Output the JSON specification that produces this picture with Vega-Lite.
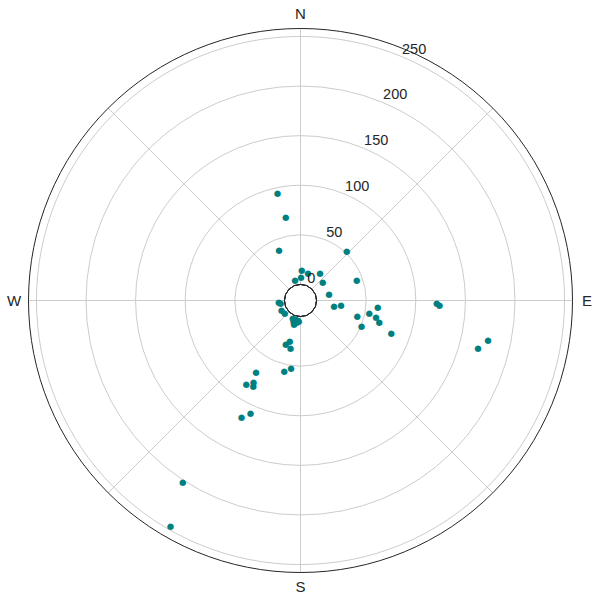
{
  "$schema": "https://vega.github.io/schema/vega-lite/v6.json",
  "width": 544,
  "height": 544,
  "autosize": {"type": "none"},
  "padding": {"left": 28.5, "top": 28.5, "right": 24, "bottom": 27},
  "background": "white",
  "view": {"stroke": null},
  "config": {"font": "Liberation Sans"},
  "datasets": {
    "points": [
      {"direction": 2, "speed": 15}, {"direction": 15, "speed": 13}, {"direction": 35, "speed": 18},
      {"direction": 345, "speed": 5}, {"direction": 1, "speed": 7}, {"direction": 50, "speed": 13},
      {"direction": 78, "speed": 13}, {"direction": 99, "speed": 18}, {"direction": 97, "speed": 25},
      {"direction": 43, "speed": 52}, {"direction": 70, "speed": 44}, {"direction": 105, "speed": 43},
      {"direction": 100, "speed": 54}, {"direction": 95, "speed": 62}, {"direction": 102, "speed": 61.5},
      {"direction": 105, "speed": 66}, {"direction": 113, "speed": 50.5}, {"direction": 110, "speed": 81},
      {"direction": 91, "speed": 121}, {"direction": 92, "speed": 124}, {"direction": 102, "speed": 177},
      {"direction": 105, "speed": 169}, {"direction": 348, "speed": 95}, {"direction": 350, "speed": 69.5},
      {"direction": 337, "speed": 39.5}, {"direction": 267, "speed": 5.7}, {"direction": 264, "speed": 4.1},
      {"direction": 244, "speed": 5.1}, {"direction": 232, "speed": 3.9}, {"direction": 204, "speed": 3.4},
      {"direction": 195, "speed": 3.0}, {"direction": 199, "speed": 5.9}, {"direction": 188, "speed": 4.1},
      {"direction": 196, "speed": 8.0}, {"direction": 190, "speed": 6.3}, {"direction": 185, "speed": 5.0},
      {"direction": 195, "speed": 25.7}, {"direction": 199, "speed": 29.9}, {"direction": 192, "speed": 32.5},
      {"direction": 188, "speed": 52.3}, {"direction": 193, "speed": 56.6}, {"direction": 212, "speed": 68.4},
      {"direction": 210, "speed": 78.5}, {"direction": 213, "speed": 84.3}, {"direction": 209, "speed": 82},
      {"direction": 204, "speed": 107.6}, {"direction": 207, "speed": 115.1}, {"direction": 213, "speed": 201.7},
      {"direction": 210, "speed": 245.9}
    ],
    "rings": [{"speed": 50}, {"speed": 100}, {"speed": 150}, {"speed": 200}, {"speed": 250}],
    "ticks": [
      {"speed": 0, "label": "0"}, {"speed": 50, "label": "50"}, {"speed": 100, "label": "100"},
      {"speed": 150, "label": "150"}, {"speed": 200, "label": "200"}, {"speed": 250, "label": "250"}
    ],
    "spokes": [
      {"direction": 0}, {"direction": 45}, {"direction": 90}, {"direction": 135},
      {"direction": 180}, {"direction": 225}, {"direction": 270}, {"direction": 315}
    ],
    "compass": [
      {"direction": 0, "label": "N"}, {"direction": 90, "label": "E"},
      {"direction": 180, "label": "S"}, {"direction": 270, "label": "W"}
    ]
  },
  "layer": [
    {
      "data": {"name": "rings"},
      "mark": {"type": "arc", "filled": false, "stroke": "#cccccc", "strokeWidth": 1, "theta": 0, "theta2": 6.283185307179586},
      "encoding": {
        "radius": {"field": "speed", "type": "quantitative", "stack": null, "scale": {"type": "linear", "domain": [-16.2, 258], "range": [0, 272], "zero": false}}
      }
    },
    {
      "data": {"name": "spokes"},
      "mark": {"type": "arc", "filled": false, "stroke": "#cccccc", "strokeWidth": 1},
      "encoding": {
        "theta": {"field": "direction", "type": "quantitative", "stack": null, "scale": {"domain": [0, 360], "range": [0, 6.283185307179586]}},
        "theta2": {"field": "direction"},
        "radius": {"datum": 258, "type": "quantitative", "stack": null, "scale": {"type": "linear", "domain": [-16.2, 258], "range": [0, 272], "zero": false}},
        "radius2": {"datum": 0}
      }
    },
    {
      "data": {"values": [{"edge": "inner"}]},
      "mark": {"type": "arc", "filled": false, "stroke": "#333333", "strokeWidth": 1, "theta": 0, "theta2": 6.283185307179586},
      "encoding": {
        "radius": {"datum": 0, "type": "quantitative", "stack": null, "scale": {"type": "linear", "domain": [-16.2, 258], "range": [0, 272], "zero": false}}
      }
    },
    {
      "data": {"values": [{"edge": "outer"}]},
      "mark": {"type": "arc", "filled": false, "stroke": "#262626", "strokeWidth": 1, "theta": 0, "theta2": 6.283185307179586},
      "encoding": {
        "radius": {"datum": 258, "type": "quantitative", "stack": null, "scale": {"type": "linear", "domain": [-16.2, 258], "range": [0, 272], "zero": false}}
      }
    },
    {
      "data": {"name": "points"},
      "mark": {"type": "text", "text": "●", "font": "DejaVu Sans", "fontSize": 8.5, "color": "#008080", "align": "center", "baseline": "middle"},
      "encoding": {
        "theta": {"field": "direction", "type": "quantitative", "stack": null, "scale": {"domain": [0, 360], "range": [0, 6.283185307179586]}},
        "radius": {"field": "speed", "type": "quantitative", "stack": null, "scale": {"type": "linear", "domain": [-16.2, 258], "range": [0, 272], "zero": false}}
      }
    },
    {
      "data": {"name": "ticks"},
      "mark": {"type": "text", "fontSize": 14.5, "color": "#262626", "align": "left", "baseline": "bottom", "dx": 0.5},
      "encoding": {
        "text": {"field": "label"},
        "theta": {"datum": 22.5, "type": "quantitative", "stack": null, "scale": {"domain": [0, 360], "range": [0, 6.283185307179586]}},
        "radius": {"field": "speed", "type": "quantitative", "stack": null, "scale": {"type": "linear", "domain": [-16.2, 258], "range": [0, 272], "zero": false}}
      }
    },
    {
      "data": {"name": "compass"},
      "mark": {"type": "text", "fontSize": 15, "color": "#262626", "align": "center", "baseline": "middle"},
      "encoding": {
        "text": {"field": "label"},
        "theta": {"field": "direction", "type": "quantitative", "stack": null, "scale": {"domain": [0, 360], "range": [0, 6.283185307179586]}},
        "radius": {"datum": 272.5, "type": "quantitative", "stack": null, "scale": {"type": "linear", "domain": [-16.2, 258], "range": [0, 272], "zero": false}}
      }
    }
  ]
}
